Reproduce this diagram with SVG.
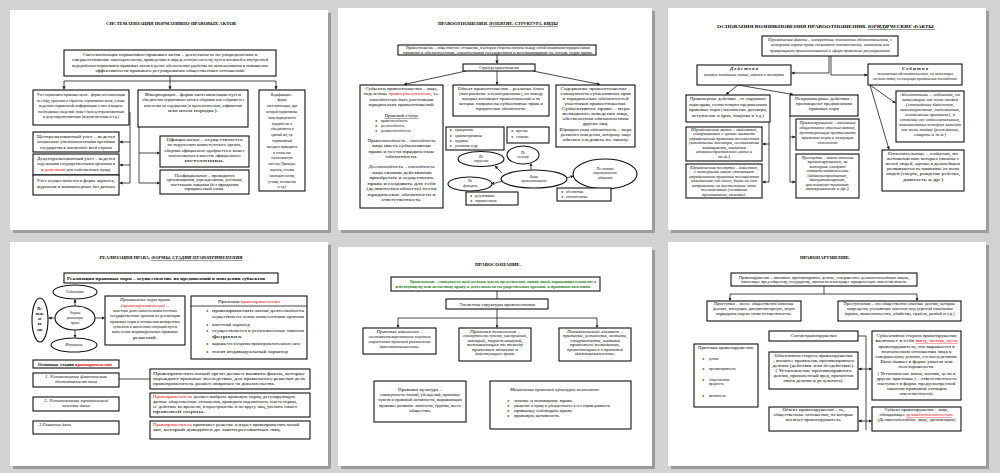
<svg xmlns="http://www.w3.org/2000/svg" width="1000" height="473" viewBox="0 0 1000 473">
<defs>
<marker id="ar" viewBox="0 0 6 6" refX="5.5" refY="3" markerWidth="4" markerHeight="4" orient="auto"><path d="M0,0 L6,3 L0,6 z" fill="#1a1a1a"/></marker>
</defs>
<style>
.sh{fill:#9c9c9c}
.sl{fill:#ffffff}
.b{fill:#ffffff;stroke:#111;stroke-width:1.1}
.c{fill:none;stroke:#1a1a1a;stroke-width:0.8}
.ca{fill:none;stroke:#1a1a1a;stroke-width:0.8;marker-end:url(#ar)}
text{font-family:"Liberation Serif","Times New Roman",serif;font-size:3.4px;fill:#000}
.m{text-anchor:middle}
.i{font-style:italic}
.bd{font-weight:bold}
.r{fill:#e00000}
.g{fill:#1d7a1d}
.u{text-decoration:underline}
.ti{font-size:3.8px;font-weight:bold}
.bu{font-family:"DejaVu Sans",sans-serif;font-size:2.8px;fill:#333}
</style>
<rect x="0" y="0" width="1000" height="473" fill="#d2d2d2"/>

<!-- ===== Slide 1 ===== -->
<g id="slide1">
<rect class="sh" x="13" y="13" width="318" height="220"/>
<rect class="sl" x="10" y="10" width="318" height="220"/>
<text class="m ti" x="171" y="25" textLength="130" lengthAdjust="spacingAndGlyphs">СИСТЕМАТИЗАЦИЯ НОРМАТИВНО-ПРАВОВЫХ АКТОВ</text>
</g>
<g id="s1-top">
<rect class="b" x="64" y="50" width="212" height="26"/>
<text class="m" x="170" y="55.5" textLength="175" lengthAdjust="spacingAndGlyphs">Систематизация нормативно-правовых актов – деятельность по упорядочению и</text>
<text class="m" x="170" y="61" textLength="196" lengthAdjust="spacingAndGlyphs">совершенствованию законодательства, приведению в определенную систему путем внешней и внутренней</text>
<text class="m" x="170" y="66.5" textLength="196" lengthAdjust="spacingAndGlyphs">переработки нормативно-правовых актов в целях обеспечения удобства их использования и повышения</text>
<text class="m" x="170" y="72" textLength="150" lengthAdjust="spacingAndGlyphs">эффективности правового регулирования общественных отношений.</text>
</g>
<g id="s1-uchet">
<rect class="b" x="33" y="90" width="96" height="35"/>
<text class="m" x="81" y="96" textLength="88" lengthAdjust="spacingAndGlyphs">Учет нормативно-правовых актов – форма систематизации</text>
<text class="m" x="81" y="101.5" textLength="88" lengthAdjust="spacingAndGlyphs">по сбору, хранению и обработке нормативных актов, а также</text>
<text class="m" x="81" y="107" textLength="84" lengthAdjust="spacingAndGlyphs">ведению справочной информации о них и выдаче</text>
<text class="m" x="81" y="112.5" textLength="86" lengthAdjust="spacingAndGlyphs">необходимых сведений; может быть централизованным</text>
<text class="m" x="81" y="118" textLength="76" lengthAdjust="spacingAndGlyphs">и децентрализованным (ведомственным и т.д.)</text>
</g>
<g id="s1-central">
<rect class="b" x="33" y="132" width="86" height="20"/>
<text class="m" x="76" y="137.5" textLength="78" lengthAdjust="spacingAndGlyphs">Централизованный учет – ведется</text>
<text class="m" x="76" y="143" textLength="78" lengthAdjust="spacingAndGlyphs">специально уполномоченными органами</text>
<text class="m" x="76" y="148.5" textLength="72" lengthAdjust="spacingAndGlyphs">государства в масштабах всей страны</text>
</g>
<g id="s1-decentral">
<rect class="b" x="33" y="154" width="86" height="21"/>
<text class="m" x="76" y="159.5" textLength="78" lengthAdjust="spacingAndGlyphs">Децентрализованный учет – ведется</text>
<text class="m" x="76" y="165" textLength="78" lengthAdjust="spacingAndGlyphs">отдельными государственными органами и</text>
<text class="m" x="76" y="170.5" textLength="70" lengthAdjust="spacingAndGlyphs"><tspan class="r">ведомствами</tspan> для собственных нужд.</text>
</g>
<g id="s1-forms">
<rect class="b" x="33" y="175" width="86" height="20"/>
<text class="m" x="76" y="181.5" textLength="78" lengthAdjust="spacingAndGlyphs">Учет осуществляется в форме картотек,</text>
<text class="m" x="76" y="187.5" textLength="78" lengthAdjust="spacingAndGlyphs">журналов и компьютерных баз данных</text>
</g>
<g id="s1-inkorp">
<rect class="b" x="138" y="90" width="110" height="37"/>
<text class="m" x="193" y="95.5" textLength="96" lengthAdjust="spacingAndGlyphs">Инкорпорация – форма систематизации путем</text>
<text class="m" x="193" y="101" textLength="102" lengthAdjust="spacingAndGlyphs">объединения нормативных актов в сборники или собрания без</text>
<text class="m" x="193" y="106.5" textLength="98" lengthAdjust="spacingAndGlyphs">изменения их содержания (в хронологическом, алфавитном</text>
<text class="m" x="193" y="112" textLength="50" lengthAdjust="spacingAndGlyphs">или ином порядке).</text>
</g>
<g id="s1-official">
<rect class="b" x="160" y="136" width="89" height="31"/>
<text class="m" x="204.5" y="141" textLength="76" lengthAdjust="spacingAndGlyphs">Официальная – осуществляется</text>
<text class="m" x="204.5" y="146" textLength="74" lengthAdjust="spacingAndGlyphs">по поручению компетентного органа,</text>
<text class="m" x="204.5" y="151.5" textLength="80" lengthAdjust="spacingAndGlyphs">сборник официально одобряется и может</text>
<text class="m" x="204.5" y="156.5" textLength="72" lengthAdjust="spacingAndGlyphs">использоваться в качестве официального</text>
<text class="m" x="204.5" y="161.5" textLength="40" lengthAdjust="spacingAndGlyphs">источника.</text>
</g>
<g id="s1-unofficial">
<rect class="b" x="160" y="170" width="89" height="24"/>
<text class="m" x="204.5" y="176.5" textLength="60" lengthAdjust="spacingAndGlyphs">Неофициальная – проводится</text>
<text class="m" x="204.5" y="181" textLength="76" lengthAdjust="spacingAndGlyphs">организациями, учреждениями, учеными,</text>
<text class="m" x="204.5" y="185.5" textLength="68" lengthAdjust="spacingAndGlyphs">частными лицами без придания</text>
<text class="m" x="204.5" y="190" textLength="40" lengthAdjust="spacingAndGlyphs">юридической силы.</text>
</g>
<g id="s1-kodif">
<rect class="b" x="259" y="90" width="46" height="101"/>
<text class="m" x="282" y="95.5">Кодификация –</text>
<text class="m" x="282" y="101.3">форма</text>
<text class="m" x="282" y="107.1">систематизации, при</text>
<text class="m" x="282" y="112.9">которой нормативные</text>
<text class="m" x="282" y="118.7">акты подвергаются</text>
<text class="m" x="282" y="124.5">переработке и</text>
<text class="m" x="282" y="130.3">объединяются в</text>
<text class="m" x="282" y="136.1">единый акт, где</text>
<text class="m" x="282" y="141.9">нормативный</text>
<text class="m" x="282" y="147.7">материал приводится</text>
<text class="m" x="282" y="153.5">в логически</text>
<text class="m" x="282" y="159.3">согласованную</text>
<text class="m" x="282" y="165.1">систему. Примеры:</text>
<text class="m" x="282" y="170.9">кодексы, основы</text>
<text class="m" x="282" y="176.7">законодательства,</text>
<text class="m" x="282" y="182.5">уставы, положения</text>
<text class="m" x="282" y="188.3">и т.д.)</text>
</g>
<g id="s1-connectors">
<path class="c" d="M170,76 V81 M64,81 H276"/>
<path class="ca" d="M64,81 V89.3"/>
<path class="ca" d="M170,81 V89.3"/>
<path class="ca" d="M276,81 V89.3"/>
<path class="c" d="M130,112 V183"/>
<path class="ca" d="M130,142 H119.7"/>
<path class="ca" d="M130,165 H119.7"/>
<path class="ca" d="M130,183 H119.7"/>
<path class="c" d="M139,127 V183"/>
<path class="ca" d="M139,153 H159.5"/>
<path class="ca" d="M139,183 H159.5"/>
</g>

<!-- ===== Slide 2 ===== -->
<g id="slide2">
<rect class="sh" x="341" y="11" width="314" height="222"/>
<rect class="sl" x="338" y="8" width="314" height="222"/>
<text class="m ti" x="498" y="25" textLength="120" lengthAdjust="spacingAndGlyphs">ПРАВООТНОШЕНИЯ. <tspan class="i u">ПОНЯТИЕ, СТРУКТУРА, ВИДЫ</tspan></text>
</g>
<g id="s2-top">
<rect class="b" x="398" y="45" width="198" height="10"/>
<text class="m" x="498" y="49.4" style="font-size:3.1px" textLength="184" lengthAdjust="spacingAndGlyphs">Правоотношение – общественное отношение, в котором стороны связаны между собой взаимными юридическими</text>
<text class="m" x="498" y="53.6" style="font-size:3.1px" textLength="190" lengthAdjust="spacingAndGlyphs">правами и обязанностями, охраняемыми государством и возникающими на основе норм права.</text>
</g>
<g id="s2-structure">
<rect class="b" x="463" y="64" width="72" height="7"/>
<text class="m" x="499" y="69" textLength="40" lengthAdjust="spacingAndGlyphs">Структура правоотношения</text>
</g>
<g id="s2-subjects">
<rect class="b" x="360" y="85" width="83" height="123"/>
<text class="m" x="401.5" y="89.5" textLength="72" lengthAdjust="spacingAndGlyphs">Субъекты правоотношения – лица,</text>
<text class="m" x="401.5" y="95" textLength="76" lengthAdjust="spacingAndGlyphs">наделенные <tspan class="r">правосубъектностью</tspan>, т.е.</text>
<text class="m" x="401.5" y="100.5" textLength="64" lengthAdjust="spacingAndGlyphs">способностью быть участниками</text>
<text class="m" x="401.5" y="106" textLength="66" lengthAdjust="spacingAndGlyphs">юридических правоотношений.</text>
<text class="m u" x="401.5" y="117" textLength="34" lengthAdjust="spacingAndGlyphs">Правовой статус</text>
<text class="bu" x="375" y="122">❖</text><text x="381" y="122">правоспособность</text>
<text class="bu" x="375" y="127">❖</text><text x="381" y="127">дееспособность</text>
<text class="bu" x="375" y="132">❖</text><text x="381" y="132">деликтоспособность</text>
<text class="m" x="401.5" y="142" textLength="68" lengthAdjust="spacingAndGlyphs">Правоспособность – способность</text>
<text class="m" x="401.5" y="147.3" textLength="60" lengthAdjust="spacingAndGlyphs">лица иметь субъективные</text>
<text class="m" x="401.5" y="152.6" textLength="66" lengthAdjust="spacingAndGlyphs">права и нести юридические</text>
<text class="m" x="401.5" y="157.9" textLength="32" lengthAdjust="spacingAndGlyphs">обязанности.</text>
<text class="m" x="401.5" y="168" textLength="66" lengthAdjust="spacingAndGlyphs">Дееспособность – способность</text>
<text class="m" x="401.5" y="173.5" textLength="60" lengthAdjust="spacingAndGlyphs">лица своими действиями</text>
<text class="m" x="401.5" y="179" textLength="64" lengthAdjust="spacingAndGlyphs">приобретать и осуществлять</text>
<text class="m" x="401.5" y="184.5" textLength="68" lengthAdjust="spacingAndGlyphs">права и создавать для себя</text>
<text class="m" x="401.5" y="190" textLength="70" lengthAdjust="spacingAndGlyphs">(деликтоспособность) нести</text>
<text class="m" x="401.5" y="195.5" textLength="68" lengthAdjust="spacingAndGlyphs">юридические обязанности и</text>
<text class="m" x="401.5" y="201" textLength="40" lengthAdjust="spacingAndGlyphs">ответственность.</text>
</g>
<g id="s2-object">
<rect class="b" x="453" y="85" width="96" height="31"/>
<text class="m" x="501" y="89.5" textLength="86" lengthAdjust="spacingAndGlyphs">Объект правоотношения – реальные блага</text>
<text class="m" x="501" y="94.5" textLength="84" lengthAdjust="spacingAndGlyphs">(материальные и нематериальные), по поводу</text>
<text class="m" x="501" y="99.5" textLength="78" lengthAdjust="spacingAndGlyphs">которых возникают правоотношения и на</text>
<text class="m" x="501" y="104.5" textLength="84" lengthAdjust="spacingAndGlyphs">которые направлены субъективные права и</text>
<text class="m" x="501" y="110" textLength="50" lengthAdjust="spacingAndGlyphs">юридические обязанности.</text>
</g>
<g id="s2-content">
<rect class="b" x="556" y="85" width="79" height="62"/>
<text class="m" x="595.5" y="89.5" textLength="70" lengthAdjust="spacingAndGlyphs">Содержание правоотношения –</text>
<text class="m" x="595.5" y="94.5" textLength="70" lengthAdjust="spacingAndGlyphs">совокупность субъективных прав</text>
<text class="m" x="595.5" y="99.5" textLength="66" lengthAdjust="spacingAndGlyphs">и юридических обязанностей</text>
<text class="m" x="595.5" y="104.5" textLength="62" lengthAdjust="spacingAndGlyphs">участников правоотношения.</text>
<text class="m" x="595.5" y="110" textLength="68" lengthAdjust="spacingAndGlyphs">Субъективное право – мера</text>
<text class="m" x="595.5" y="115" textLength="66" lengthAdjust="spacingAndGlyphs">возможного поведения лица,</text>
<text class="m" x="595.5" y="120" textLength="66" lengthAdjust="spacingAndGlyphs">обеспеченная обязанностями</text>
<text class="m" x="595.5" y="125" textLength="26" lengthAdjust="spacingAndGlyphs">других лиц.</text>
<text class="m" x="595.5" y="131" textLength="72" lengthAdjust="spacingAndGlyphs">Юридическая обязанность – мера</text>
<text class="m" x="595.5" y="136" textLength="70" lengthAdjust="spacingAndGlyphs">должного поведения, которому лицо</text>
<text class="m" x="595.5" y="141" textLength="66" lengthAdjust="spacingAndGlyphs">обязано следовать по закону.</text>
</g>
<g id="s2-branches">
<rect class="b" x="446" y="127" width="58" height="23"/>
<text class="bu" x="449.5" y="131.3">❖</text><text x="455" y="131.3">гражданские</text>
<text class="bu" x="449.5" y="136.6">❖</text><text x="455" y="136.6">административные</text>
<text class="bu" x="449.5" y="141.9">❖</text><text x="455" y="141.9">трудовые</text>
<text class="bu" x="449.5" y="147.2">❖</text><text x="455" y="147.2">уголовные и др.</text>
</g>
<g id="s2-composition">
<rect class="b" x="507" y="127" width="42" height="16"/>
<text class="bu" x="511" y="132">❖</text><text x="516" y="132">простые</text>
<text class="bu" x="511" y="138">❖</text><text x="516" y="138">сложные</text>
</g>
<g id="s2-e-branch">
<ellipse class="b" cx="481" cy="159" rx="23" ry="7.5"/>
<text class="m i" x="481" y="158">По</text>
<text class="m i" x="481" y="162.3">отраслям</text>
</g>
<g id="s2-e-comp">
<ellipse class="b" cx="523" cy="155" rx="16" ry="9"/>
<text class="m i" x="523" y="153.5">По</text>
<text class="m i" x="523" y="158">составу</text>
</g>
<g id="s2-e-types">
<ellipse class="b" cx="534" cy="179" rx="33" ry="9"/>
<text class="m i" x="534" y="177.5">Виды</text>
<text class="m i" x="534" y="182">правоотношений</text>
</g>
<g id="s2-e-func">
<ellipse class="b" cx="470" cy="184" rx="22" ry="7"/>
<text class="m i" x="470" y="182.3">По</text>
<text class="m i" x="470" y="186.6">функциям</text>
</g>
<g id="s2-e-subj">
<ellipse class="b" cx="605" cy="174" rx="32" ry="15"/>
<text class="m i" x="605" y="169.5">По степени</text>
<text class="m i" x="605" y="174">определенности</text>
<text class="m i" x="605" y="178.5">субъектов</text>
</g>
<g id="s2-func-list">
<rect class="b" x="466" y="192" width="52" height="13"/>
<text class="bu" x="470" y="196.8">❖</text><text x="475" y="196.8">регулятивные</text>
<text class="bu" x="470" y="201.6">❖</text><text x="475" y="201.6">охранительные</text>
</g>
<g id="s2-subj-list">
<rect class="b" x="557" y="188" width="54" height="13"/>
<text class="bu" x="561" y="192.8">❖</text><text x="566" y="192.8">абсолютные</text>
<text class="bu" x="561" y="197.6">❖</text><text x="566" y="197.6">относительные</text>
</g>
<g id="s2-connectors">
<path class="ca" d="M497,55 V63.4"/>
<path class="ca" d="M466,71 L404,84.5"/>
<path class="ca" d="M497,71 V84.5"/>
<path class="ca" d="M533,71 L600,84.5"/>
<path class="ca" d="M502,173 L495,166"/>
<path class="ca" d="M531,170 V163.5"/>
<path class="ca" d="M503,181 L491.5,184"/>
<path class="ca" d="M566,178 L573.5,176"/>
</g>

<!-- ===== Slide 3 ===== -->
<g id="slide3">
<rect class="sh" x="671" y="11" width="318" height="222"/>
<rect class="sl" x="668" y="8" width="318" height="222"/>
<text class="m ti" x="826" y="28" textLength="218" lengthAdjust="spacingAndGlyphs">ОСНОВАНИЯ ВОЗНИКНОВЕНИЯ ПРАВООТНОШЕНИЙ. <tspan class="i u">ЮРИДИЧЕСКИЕ ФАКТЫ.</tspan></text>
</g>
<g id="s3-top">
<rect class="b" x="762" y="36" width="136" height="20"/>
<text class="m i" x="830" y="41.3" textLength="124" lengthAdjust="spacingAndGlyphs">Юридические факты – конкретные жизненные обстоятельства, с</text>
<text class="m i" x="830" y="46.3" textLength="118" lengthAdjust="spacingAndGlyphs">которыми нормы права связывают возникновение, изменение или</text>
<text class="m i" x="830" y="51.5" textLength="120" lengthAdjust="spacingAndGlyphs">прекращение правоотношений в сфере правового регулирования</text>
</g>
<g id="s3-actions">
<rect class="b" x="697" y="65" width="94" height="20"/>
<text class="m i bd" x="744" y="70" textLength="28" lengthAdjust="spacingAndGlyphs">Д е й с т в и я</text>
<text class="m i" x="744" y="75.5" textLength="80" lengthAdjust="spacingAndGlyphs">волевое поведение людей, деяния и поступки</text>
</g>
<g id="s3-events">
<rect class="b" x="868" y="64" width="94" height="21"/>
<text class="m i bd" x="915" y="70" textLength="26" lengthAdjust="spacingAndGlyphs">С о б ы т и я</text>
<text class="m i" x="915" y="75.3" textLength="76" lengthAdjust="spacingAndGlyphs">жизненные обстоятельства, не зависящие</text>
<text class="m i" x="915" y="80.3" textLength="84" lengthAdjust="spacingAndGlyphs">от воли людей, но влекущие юридические последствия</text>
</g>
<g id="s3-lawful">
<rect class="b" x="686" y="95" width="84" height="27"/>
<text class="m" x="728" y="100" textLength="76" lengthAdjust="spacingAndGlyphs">Правомерные действия – не нарушают</text>
<text class="m" x="728" y="105.5" textLength="78" lengthAdjust="spacingAndGlyphs">норм права, соответствуют предписаниям</text>
<text class="m" x="728" y="111" textLength="78" lengthAdjust="spacingAndGlyphs">правовых норм (заключение договора,</text>
<text class="m" x="728" y="116.5" textLength="72" lengthAdjust="spacingAndGlyphs">вступление в брак, покупка и т.д.)</text>
</g>
<g id="s3-unlawful">
<rect class="b" x="790" y="95" width="68" height="21"/>
<text class="m" x="824" y="99.8" textLength="58" lengthAdjust="spacingAndGlyphs">Неправомерные действия –</text>
<text class="m" x="824" y="104.8" textLength="56" lengthAdjust="spacingAndGlyphs">противоречат предписаниям</text>
<text class="m" x="824" y="110" textLength="30" lengthAdjust="spacingAndGlyphs">правовых норм</text>
</g>
<g id="s3-absolute">
<rect class="b" x="896" y="91" width="68" height="51"/>
<text class="m i" x="930" y="95.8" textLength="60" lengthAdjust="spacingAndGlyphs">Абсолютные – события, не</text>
<text class="m i" x="930" y="100.8" textLength="56" lengthAdjust="spacingAndGlyphs">зависящие от воли людей</text>
<text class="m i" x="930" y="105.8" textLength="48" lengthAdjust="spacingAndGlyphs">(стихийные бедствия,</text>
<text class="m i" x="930" y="110.8" textLength="60" lengthAdjust="spacingAndGlyphs">землетрясение, наводнение,</text>
<text class="m i" x="930" y="115.8" textLength="50" lengthAdjust="spacingAndGlyphs">истечение времени), в</text>
<text class="m i" x="930" y="120.8" textLength="60" lengthAdjust="spacingAndGlyphs">отличие от относительных,</text>
<text class="m i" x="930" y="125.8" textLength="62" lengthAdjust="spacingAndGlyphs">возникновение которых зависит</text>
<text class="m i" x="930" y="130.8" textLength="58" lengthAdjust="spacingAndGlyphs">от воли людей (рождение,</text>
<text class="m i" x="930" y="135.8" textLength="32" lengthAdjust="spacingAndGlyphs">смерть и т.д.)</text>
</g>
<g id="s3-relative">
<rect class="b" x="882" y="150" width="82" height="41"/>
<text class="m" x="923" y="155.3" textLength="70" lengthAdjust="spacingAndGlyphs">Относительные – события, по</text>
<text class="m" x="923" y="160.3" textLength="72" lengthAdjust="spacingAndGlyphs">возникновению которых связаны с</text>
<text class="m" x="923" y="165.3" textLength="74" lengthAdjust="spacingAndGlyphs">волей людей, однако в дальнейшем</text>
<text class="m" x="923" y="170.3" textLength="72" lengthAdjust="spacingAndGlyphs">развиваются независимо от воли</text>
<text class="m" x="923" y="175.3" textLength="74" lengthAdjust="spacingAndGlyphs">людей (смерть, рождение ребенка,</text>
<text class="m" x="923" y="180.5" textLength="40" lengthAdjust="spacingAndGlyphs">давность и др.)</text>
</g>
<g id="s3-acts">
<rect class="b" x="686" y="127" width="76" height="34"/>
<text class="m i" x="724" y="130.8" textLength="66" lengthAdjust="spacingAndGlyphs">Юридические акты – действия,</text>
<text class="m i" x="724" y="135.3" textLength="62" lengthAdjust="spacingAndGlyphs">совершаемые с целью вызвать</text>
<text class="m i" x="724" y="139.8" textLength="70" lengthAdjust="spacingAndGlyphs">определенные правовые последствия</text>
<text class="m i" x="724" y="144.3" textLength="70" lengthAdjust="spacingAndGlyphs">(заключение договора, составление</text>
<text class="m i" x="724" y="148.8" textLength="44" lengthAdjust="spacingAndGlyphs">завещания, издание</text>
<text class="m i" x="724" y="153.3" textLength="56" lengthAdjust="spacingAndGlyphs">административного акта и</text>
<text class="m i" x="724" y="157.8" textLength="12" lengthAdjust="spacingAndGlyphs">т.д.)</text>
</g>
<g id="s3-deeds">
<rect class="b" x="686" y="164" width="76" height="34"/>
<text class="m i" x="724" y="168.5" textLength="68" lengthAdjust="spacingAndGlyphs">Юридические поступки – действия,</text>
<text class="m i" x="724" y="173" textLength="60" lengthAdjust="spacingAndGlyphs">с которыми закон связывает</text>
<text class="m i" x="724" y="177.5" textLength="70" lengthAdjust="spacingAndGlyphs">определенные правовые последствия</text>
<text class="m i" x="724" y="182" textLength="66" lengthAdjust="spacingAndGlyphs">независимо от того, были ли они</text>
<text class="m i" x="724" y="186.5" textLength="64" lengthAdjust="spacingAndGlyphs">направлены на достижение этих</text>
<text class="m i" x="724" y="191" textLength="46" lengthAdjust="spacingAndGlyphs">последствий (создание</text>
<text class="m i" x="724" y="195.5" textLength="44" lengthAdjust="spacingAndGlyphs">произведения, находка).</text>
</g>
<g id="s3-offences">
<rect class="b" x="796" y="119" width="63" height="31"/>
<text class="m i" x="827.5" y="123.8" textLength="56" lengthAdjust="spacingAndGlyphs">Правонарушения – виновные</text>
<text class="m i" x="827.5" y="128.8" textLength="56" lengthAdjust="spacingAndGlyphs">общественно опасные деяния,</text>
<text class="m i" x="827.5" y="133.8" textLength="56" lengthAdjust="spacingAndGlyphs">противоречащие предписаниям</text>
<text class="m i" x="827.5" y="138.8" textLength="52" lengthAdjust="spacingAndGlyphs">правовых норм и влекущие</text>
<text class="m i" x="827.5" y="143.8" textLength="20" lengthAdjust="spacingAndGlyphs">ответственность</text>
</g>
<g id="s3-misdeeds">
<rect class="b" x="796" y="154" width="63" height="44"/>
<text class="m i" x="827.5" y="158.5" textLength="52" lengthAdjust="spacingAndGlyphs">Проступки – менее опасные</text>
<text class="m i" x="827.5" y="163" textLength="40" lengthAdjust="spacingAndGlyphs">правонарушения, за</text>
<text class="m i" x="827.5" y="167.5" textLength="36" lengthAdjust="spacingAndGlyphs">которые следует</text>
<text class="m i" x="827.5" y="172" textLength="42" lengthAdjust="spacingAndGlyphs">ответственность</text>
<text class="m i" x="827.5" y="176.5" textLength="40" lengthAdjust="spacingAndGlyphs">(административная,</text>
<text class="m i" x="827.5" y="181" textLength="36" lengthAdjust="spacingAndGlyphs">дисциплинарная,</text>
<text class="m i" x="827.5" y="185.5" textLength="44" lengthAdjust="spacingAndGlyphs">гражданско-правовая,</text>
<text class="m i" x="827.5" y="190" textLength="44" lengthAdjust="spacingAndGlyphs">материальная и др.).</text>
</g>
<g id="s3-connectors">
<path class="ca" d="M829,56 V73 H791.6"/>
<path class="ca" d="M831,56 V75 H867.4"/>
<path class="ca" d="M738,85 L726,94.5"/>
<path class="ca" d="M738,85 L793,94.5"/>
<path class="ca" d="M870,85 L895.4,103"/>
<path class="ca" d="M870,85 L889,149.4"/>
<path class="c" d="M769,122 V182"/>
<path class="ca" d="M769,144 H762.6"/>
<path class="ca" d="M769,182 H762.6"/>
<path class="c" d="M790,116 V182"/>
<path class="ca" d="M790,137 H795.4"/>
<path class="ca" d="M790,182 H795.4"/>
</g>

<!-- ===== Slide 4 ===== -->
<g id="slide4">
<rect class="sh" x="13" y="245" width="318" height="224"/>
<rect class="sl" x="10" y="242" width="318" height="224"/>
<text class="m ti" x="171" y="259" textLength="143" lengthAdjust="spacingAndGlyphs">РЕАЛИЗАЦИЯ ПРАВА. <tspan class="i u">ФОРМЫ, СТАДИИ ПРАВОПРИМЕНЕНИЯ</tspan></text>
</g>
<g id="s4-def">
<rect class="b" x="64" y="273" width="214" height="10"/>
<text class="bd" x="67" y="280.3" style="font-size:4.6px" textLength="198" lengthAdjust="spacingAndGlyphs">Реализация правовых норм – осуществление их предписаний в поведении субъектов</text>
</g>
<g id="s4-e-observe">
<ellipse class="b" cx="75" cy="292" rx="22" ry="7"/>
<text class="m i" x="75" y="293.3">Соблюдение</text>
</g>
<g id="s4-e-forms">
<ellipse class="b" cx="75" cy="318" rx="20" ry="12"/>
<text class="m i" x="75" y="314.3">Формы</text>
<text class="m i" x="75" y="319">реализации</text>
<text class="m i" x="75" y="323.7">права</text>
</g>
<g id="s4-e-execute">
<ellipse class="b" cx="74" cy="345" rx="23" ry="7"/>
<text class="m i" x="74" y="346.3">Исполнение</text>
</g>
<g id="s4-e-use">
<ellipse class="b" cx="40" cy="320" rx="8" ry="22"/>
<text class="m bd" x="40" y="309.5">Ис-</text>
<text class="m bd" x="40" y="314.8">поль-</text>
<text class="m bd" x="40" y="320.1">зо-</text>
<text class="m bd" x="40" y="325.4">ва-</text>
<text class="m bd" x="40" y="330.7">ние</text>
</g>
<g id="s4-apply">
<rect class="b" x="105" y="296" width="80" height="49"/>
<text class="m i" x="145" y="301" textLength="50" lengthAdjust="spacingAndGlyphs">Применение норм права</text>
<text class="m i" x="145" y="306.5" textLength="48" lengthAdjust="spacingAndGlyphs"><tspan class="r">(правоприменение)</tspan> –</text>
<text class="m" x="145" y="312" textLength="64" lengthAdjust="spacingAndGlyphs">властная деятельность компетентных</text>
<text class="m" x="145" y="317.3" textLength="70" lengthAdjust="spacingAndGlyphs">государственных органов по реализации</text>
<text class="m" x="145" y="322.6" textLength="70" lengthAdjust="spacingAndGlyphs">правовых норм в отношении конкретных</text>
<text class="m" x="145" y="327.9" textLength="64" lengthAdjust="spacingAndGlyphs">субъектов и жизненных ситуаций путем</text>
<text class="m" x="145" y="333.2" textLength="66" lengthAdjust="spacingAndGlyphs">вынесения индивидуальных правовых</text>
<text class="m" x="145" y="338.5" textLength="24" lengthAdjust="spacingAndGlyphs">решений.</text>
</g>
<g id="s4-signs">
<rect class="b" x="191" y="296" width="116" height="63"/>
<path class="c" d="M191,306 H307"/>
<text class="m" x="249" y="302.5" textLength="62" lengthAdjust="spacingAndGlyphs">Признаки <tspan class="r">правоприменения</tspan></text>
<text class="bu" x="206" y="312">❖</text><text x="212" y="312" textLength="92" lengthAdjust="spacingAndGlyphs">правоприменительная            деятельность</text>
<text x="212" y="318" textLength="92" lengthAdjust="spacingAndGlyphs">осуществляется только компетентными органами</text>
<text class="bu" x="206" y="326">❖</text><text x="212" y="326" textLength="38" lengthAdjust="spacingAndGlyphs">властный характер</text>
<text class="bu" x="206" y="332">❖</text><text x="212" y="332" textLength="92" lengthAdjust="spacingAndGlyphs">осуществляется   в   установленных   законом</text>
<text x="212" y="338" textLength="30" lengthAdjust="spacingAndGlyphs">формах</text>
<text class="bu" x="206" y="345">❖</text><text x="212" y="345" textLength="88" lengthAdjust="spacingAndGlyphs">выражается в издании правоприменительного акта</text>
<text class="bu" x="206" y="353">❖</text><text x="212" y="353" textLength="76" lengthAdjust="spacingAndGlyphs">носит индивидуальный характер</text>
</g>
<g id="s4-stages">
<rect class="b" x="33" y="360" width="86" height="8"/>
<text class="bd" x="38" y="365.5" textLength="74" lengthAdjust="spacingAndGlyphs">Основные стадии <tspan class="r">правоприменения</tspan></text>
</g>
<g id="s4-st1">
<rect class="b" x="33" y="373" width="86" height="14"/>
<text class="m i" x="76" y="377.8" textLength="62" lengthAdjust="spacingAndGlyphs">1. Установление фактических</text>
<text class="m i" x="76" y="382.8" textLength="42" lengthAdjust="spacingAndGlyphs">обстоятельств дела</text>
</g>
<g id="s4-st2">
<rect class="b" x="33" y="397" width="86" height="14"/>
<text class="m i" x="76" y="401.8" textLength="64" lengthAdjust="spacingAndGlyphs">2. Установление юридической</text>
<text class="m i" x="76" y="406.8" textLength="28" lengthAdjust="spacingAndGlyphs">основы дела</text>
</g>
<g id="s4-st3">
<rect class="b" x="33" y="421" width="86" height="13"/>
<text class="i" x="39" y="425.5" textLength="32" lengthAdjust="spacingAndGlyphs">3.Решение дела</text>
</g>
<g id="s4-d1">
<rect class="b" x="150" y="369" width="160" height="20"/>
<text x="153" y="374.5" textLength="152" lengthAdjust="spacingAndGlyphs">Правоприменительный орган должен выявить факты, которые</text>
<text x="153" y="379.5" textLength="152" lengthAdjust="spacingAndGlyphs">порождают правовые последствия, для правильного решения дела</text>
<text x="153" y="384.5" textLength="122" lengthAdjust="spacingAndGlyphs">правоприменитель должен опираться на доказательства.</text>
</g>
<g id="s4-d2">
<rect class="b" x="150" y="393" width="160" height="24"/>
<text x="153" y="398" textLength="142" lengthAdjust="spacingAndGlyphs"><tspan class="r">Правоприменитель</tspan> должен выбрать правовую норму, регулирующую</text>
<text x="153" y="403" textLength="144" lengthAdjust="spacingAndGlyphs">данные общественные отношения, проверить подлинность текста нормы,</text>
<text x="153" y="408" textLength="144" lengthAdjust="spacingAndGlyphs">её действие во времени, в пространстве и по кругу лиц, уяснить смысл</text>
<text x="153" y="412.8" textLength="52" lengthAdjust="spacingAndGlyphs">правовой нормы.</text>
</g>
<g id="s4-d3">
<rect class="b" x="150" y="421" width="160" height="18"/>
<text x="153" y="425.8" textLength="146" lengthAdjust="spacingAndGlyphs"><tspan class="r">Правоприменитель</tspan> принимает решение и издает правоприменительный</text>
<text x="153" y="430.8" textLength="128" lengthAdjust="spacingAndGlyphs">акт, который доводится до заинтересованных лиц.</text>
</g>
<g id="s4-connectors">
<path class="ca" d="M75,306 V299.6"/>
<path class="ca" d="M75,330 V337.6"/>
<path class="ca" d="M55,318 H48.6"/>
<path class="ca" d="M95,318 H104.5"/>
<path class="c" d="M119,379 H150"/>
</g>

<!-- ===== Slide 5 ===== -->
<g id="slide5">
<rect class="sh" x="341" y="250" width="314" height="219"/>
<rect class="sl" x="338" y="247" width="314" height="219"/>
<text class="m ti" x="498" y="265.5" textLength="46" lengthAdjust="spacingAndGlyphs">ПРАВОСОЗНАНИЕ.</text>
</g>
<g id="s5-top">
<rect class="b" x="391" y="277" width="209" height="14"/>
<text class="m bd g" x="503" y="282.5" textLength="186" lengthAdjust="spacingAndGlyphs">Правосознание – совокупность идей, взглядов, чувств, представлений, эмоций людей, выражающих отношение к</text>
<text class="m bd g" x="493" y="287.5" textLength="196" lengthAdjust="spacingAndGlyphs">действующему или желаемому праву, к деятельности государственных органов, к правовым явлениям.</text>
</g>
<g id="s5-elements">
<rect class="b" x="446" y="299" width="102" height="10"/>
<text class="m" x="497" y="305.5" textLength="76" lengthAdjust="spacingAndGlyphs">Элементы структуры правосознания</text>
</g>
<g id="s5-ideology">
<rect class="b" x="363" y="328" width="73" height="26"/>
<text class="m i" x="399.5" y="332.5" textLength="46" lengthAdjust="spacingAndGlyphs">Правовая идеология –</text>
<text class="m i" x="399.5" y="337.5" textLength="62" lengthAdjust="spacingAndGlyphs">систематизированное научное</text>
<text class="m i" x="399.5" y="342.5" textLength="62" lengthAdjust="spacingAndGlyphs">отражение правовой реальности</text>
<text class="m i" x="399.5" y="347.5" textLength="40" lengthAdjust="spacingAndGlyphs">действительности.</text>
</g>
<g id="s5-psych">
<rect class="b" x="459" y="328" width="72" height="33"/>
<text class="m i" x="495" y="332.5" textLength="50" lengthAdjust="spacingAndGlyphs">Правовая психология –</text>
<text class="m i" x="495" y="337" textLength="64" lengthAdjust="spacingAndGlyphs">совокупность чувств, настроений,</text>
<text class="m i" x="495" y="341.5" textLength="56" lengthAdjust="spacingAndGlyphs">эмоций, переживаний,</text>
<text class="m i" x="495" y="346" textLength="56" lengthAdjust="spacingAndGlyphs">возникающих по поводу</text>
<text class="m i" x="495" y="350.5" textLength="46" lengthAdjust="spacingAndGlyphs">правовых явлений и</text>
<text class="m i" x="495" y="355" textLength="40" lengthAdjust="spacingAndGlyphs">действующего права.</text>
</g>
<g id="s5-behaviour">
<rect class="b" x="559" y="328" width="72" height="33"/>
<text class="m i" x="595" y="332.5" textLength="56" lengthAdjust="spacingAndGlyphs">Поведенческий элемент –</text>
<text class="m i" x="595" y="337" textLength="64" lengthAdjust="spacingAndGlyphs">привычки, установки, мотивы,</text>
<text class="m i" x="595" y="341.5" textLength="50" lengthAdjust="spacingAndGlyphs">стереотипы, навыки</text>
<text class="m i" x="595" y="346" textLength="50" lengthAdjust="spacingAndGlyphs">правового поведения,</text>
<text class="m i" x="595" y="350.5" textLength="56" lengthAdjust="spacingAndGlyphs">проявляющиеся в правовой</text>
<text class="m i" x="595" y="355" textLength="40" lengthAdjust="spacingAndGlyphs">деятельности.</text>
</g>
<g id="s5-culture">
<rect class="b" x="374" y="381" width="92" height="41"/>
<text class="m" x="420" y="390.5" textLength="44" lengthAdjust="spacingAndGlyphs">Правовая культура –</text>
<text class="m" x="420" y="395.5" textLength="80" lengthAdjust="spacingAndGlyphs">совокупность знаний, убеждений, правовых</text>
<text class="m" x="420" y="401" textLength="84" lengthAdjust="spacingAndGlyphs">чувств и правовой активности, выражающих</text>
<text class="m" x="420" y="406.5" textLength="82" lengthAdjust="spacingAndGlyphs">правовое развитие личности, группы, всего</text>
<text class="m" x="420" y="412" textLength="22" lengthAdjust="spacingAndGlyphs">общества.</text>
</g>
<g id="s5-mechanisms">
<rect class="b" x="490" y="381" width="141" height="48"/>
<text class="m i" x="555" y="391" textLength="90" lengthAdjust="spacingAndGlyphs">Механизмы правовой культуры включают:</text>
<text class="bu" x="507" y="402">❖</text><text x="514" y="402" textLength="58" lengthAdjust="spacingAndGlyphs">знание и понимание права</text>
<text class="bu" x="507" y="407">❖</text><text x="514" y="407" textLength="96" lengthAdjust="spacingAndGlyphs">уважение к праву и убежденность в его справедливости</text>
<text class="bu" x="507" y="412">❖</text><text x="514" y="412" textLength="58" lengthAdjust="spacingAndGlyphs">привычку соблюдать право</text>
<text class="bu" x="507" y="417">❖</text><text x="514" y="417" textLength="46" lengthAdjust="spacingAndGlyphs">правовую активность.</text>
</g>
<g id="s5-connectors">
<path class="c" d="M497,291 V299"/>
<path class="c" d="M497,309 V318 M398,318 H597"/>
<path class="ca" d="M398,318 V327.5"/>
<path class="ca" d="M497,318 V327.5"/>
<path class="ca" d="M597,318 V327.5"/>
</g>

<!-- ===== Slide 6 ===== -->
<g id="slide6">
<rect class="sh" x="671" y="245" width="318" height="224"/>
<rect class="sl" x="668" y="242" width="318" height="224"/>
<text class="m ti" x="825" y="258.5" textLength="50" lengthAdjust="spacingAndGlyphs">ПРАВОНАРУШЕНИЕ.</text>
</g>
<g id="s6-top">
<rect class="b" x="731" y="273" width="186" height="13"/>
<text class="m" x="824" y="278.5" textLength="170" lengthAdjust="spacingAndGlyphs">Правонарушение – виновное противоправное деяние, совершенное деликтоспособным лицом,</text>
<text class="m" x="824" y="283" textLength="166" lengthAdjust="spacingAndGlyphs">наносящее вред обществу, государству, личности и влекущее юридическую ответственность.</text>
</g>
<g id="s6-misdeeds">
<rect class="b" x="707" y="301" width="94" height="20"/>
<text class="m" x="754" y="305.3" textLength="80" lengthAdjust="spacingAndGlyphs">Проступки – менее общественно опасные</text>
<text class="m" x="754" y="310.3" textLength="82" lengthAdjust="spacingAndGlyphs">деяния, влекущие дисциплинарную, иную</text>
<text class="m" x="754" y="315.3" textLength="76" lengthAdjust="spacingAndGlyphs">юридическую ответственность.</text>
</g>
<g id="s6-crimes">
<rect class="b" x="838" y="301" width="123" height="20"/>
<text class="m" x="899.5" y="305.3" textLength="112" lengthAdjust="spacingAndGlyphs">Преступления – это общественно опасные деяния, которые</text>
<text class="m" x="899.5" y="310.3" textLength="106" lengthAdjust="spacingAndGlyphs">запрещены уголовным законом под угрозой наказания</text>
<text class="m" x="899.5" y="315.3" textLength="110" lengthAdjust="spacingAndGlyphs">(кража, мошенничество, убийство, грабеж, разбой и т.д.)</text>
</g>
<g id="s6-composition">
<rect class="b" x="769" y="331" width="89" height="10"/>
<text class="m" x="813.5" y="337.3" textLength="46" lengthAdjust="spacingAndGlyphs">Состав правонарушения</text>
</g>
<g id="s6-signs">
<rect class="b" x="694" y="344" width="64" height="63"/>
<text class="m" x="726" y="348.8" textLength="56" lengthAdjust="spacingAndGlyphs">Признаки правонарушения:</text>
<text class="bu" x="702" y="360">❖</text><text x="709" y="360">деяние</text>
<text class="bu" x="702" y="370">❖</text><text x="709" y="370">противоправность</text>
<text class="bu" x="702" y="380.5">❖</text><text x="709" y="380.5">общественная</text>
<text x="709" y="385">вредность</text>
<text class="bu" x="702" y="396.5">❖</text><text x="709" y="396.5">виновность</text>
</g>
<g id="s6-objside">
<rect class="b" x="769" y="352" width="89" height="37"/>
<text class="m" x="813.5" y="356.5" textLength="78" lengthAdjust="spacingAndGlyphs">Объективная сторона правонарушения</text>
<text class="m" x="813.5" y="361.5" textLength="82" lengthAdjust="spacingAndGlyphs">– внешнее проявление противоправного</text>
<text class="m" x="813.5" y="366.5" textLength="82" lengthAdjust="spacingAndGlyphs">деяния (действие или бездействие).</text>
<text class="m" x="813.5" y="371.5" textLength="76" lengthAdjust="spacingAndGlyphs">( Установление противоправного</text>
<text class="m" x="813.5" y="376.5" textLength="80" lengthAdjust="spacingAndGlyphs">деяния, причиненный вред, причинная</text>
<text class="m" x="813.5" y="381.5" textLength="60" lengthAdjust="spacingAndGlyphs">связь деяния и результата).</text>
</g>
<g id="s6-object">
<rect class="b" x="769" y="407" width="89" height="24"/>
<text class="m" x="813.5" y="411.3" textLength="62" lengthAdjust="spacingAndGlyphs">Объект правонарушения – то,</text>
<text class="m" x="813.5" y="416.3" textLength="80" lengthAdjust="spacingAndGlyphs">общественные отношения, на которые</text>
<text class="m" x="813.5" y="421.3" textLength="56" lengthAdjust="spacingAndGlyphs">посягает правонарушитель.</text>
</g>
<g id="s6-subjside">
<rect class="b" x="872" y="331" width="89" height="69"/>
<text class="m" x="916.5" y="336.5" textLength="80" lengthAdjust="spacingAndGlyphs">Субъективная сторона правонарушения</text>
<text class="m" x="916.5" y="342" textLength="82" lengthAdjust="spacingAndGlyphs">включает в себя <tspan class="r u">вину, мотив, цель</tspan></text>
<text class="m" x="916.5" y="347.5" textLength="76" lengthAdjust="spacingAndGlyphs">правонарушителя, она выражается в</text>
<text class="m" x="916.5" y="352.5" textLength="70" lengthAdjust="spacingAndGlyphs">психическом отношении лица к</text>
<text class="m" x="916.5" y="357.5" textLength="82" lengthAdjust="spacingAndGlyphs">совершаемому деянию, его последствиям.</text>
<text class="m" x="916.5" y="362.5" textLength="72" lengthAdjust="spacingAndGlyphs">Вина бывает в форме умысла или</text>
<text class="m" x="916.5" y="367.5" textLength="36" lengthAdjust="spacingAndGlyphs">неосторожности.</text>
<text class="m" x="916.5" y="374.5" textLength="78" lengthAdjust="spacingAndGlyphs">( Установление вины, мотива, цели и</text>
<text class="m" x="916.5" y="379.5" textLength="80" lengthAdjust="spacingAndGlyphs">другие признаки ) – ответственность</text>
<text class="m" x="916.5" y="384.5" textLength="78" lengthAdjust="spacingAndGlyphs">наступает в форме предусмотренной</text>
<text class="m" x="916.5" y="389.5" textLength="60" lengthAdjust="spacingAndGlyphs">законом правовой санкции</text>
<text class="m" x="916.5" y="394.5" textLength="34" lengthAdjust="spacingAndGlyphs">ответственности).</text>
</g>
<g id="s6-subject">
<rect class="b" x="872" y="407" width="89" height="24"/>
<text class="m" x="916.5" y="411.3" textLength="64" lengthAdjust="spacingAndGlyphs">Субъект правонарушения – лицо,</text>
<text class="m" x="916.5" y="416.3" textLength="74" lengthAdjust="spacingAndGlyphs">обладающее <tspan class="r u">деликтоспособностью</tspan>.</text>
<text class="m" x="916.5" y="421.3" textLength="78" lengthAdjust="spacingAndGlyphs">(Деликтоспособное лицо, организация)</text>
</g>
<g id="s6-connectors">
<path class="c" d="M824,286 V294 M730,294 H917"/>
<path class="ca" d="M730,294 V300.5"/>
<path class="ca" d="M917,294 V300.5"/>
<path class="c" d="M858,336 H866 V430"/>
<path class="ca" d="M866,369 H858.6"/>
<path class="ca" d="M866,369 H871.5"/>
<path class="ca" d="M866,421 H858.6"/>
<path class="ca" d="M866,421 H871.5"/>
</g>
</svg>
